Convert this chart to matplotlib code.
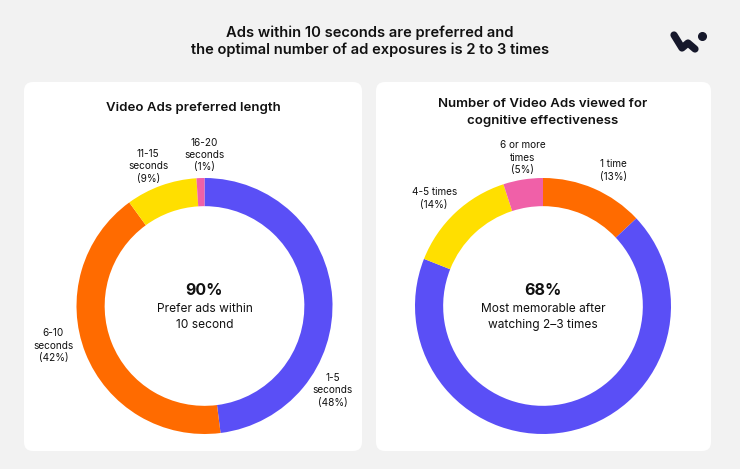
import matplotlib.pyplot as plt
from matplotlib.patches import FancyBboxPatch
from matplotlib.lines import Line2D

# chart data
length_labels = ["1-5\nseconds\n(48%)", "6-10\nseconds\n(42%)", "11-15\nseconds\n(9%)", "16-20\nseconds\n(1%)"]
length_values = [48, 42, 9, 1]
views_labels = ["1 time\n(13%)", "2-3 times", "4-5 times\n(14%)", "6 or more\ntimes\n(5%)"]
views_values = [13, 68, 14, 5]

BLUE = "#5a4ff6"
ORANGE = "#ff6b00"
YELLOW = "#ffdf00"
PINK = "#f060a8"
length_colors = [BLUE, ORANGE, YELLOW, PINK]
views_colors = [ORANGE, BLUE, YELLOW, PINK]

W, H = 740, 469
FONT = ["Inter", "DejaVu Sans"]
TXT = "#111111"

fig = plt.figure(figsize=(W / 100, H / 100), dpi=100)
fig.patch.set_facecolor("#f2f2f2")

# overlay axes in pixel coords
bg = fig.add_axes([0, 0, 1, 1])
bg.set_xlim(0, W)
bg.set_ylim(H, 0)
bg.axis("off")

for x0, x1 in [(24, 362), (376, 711)]:
    bg.add_patch(FancyBboxPatch((x0, 82), x1 - x0, 369,
                                boxstyle="round,pad=0,rounding_size=9",
                                fc="white", ec="none"))

bg.text(370, 33, "Ads within 10 seconds are preferred and", ha="center", va="center",
        fontsize=10.6, fontweight="semibold", family=FONT, color=TXT)
bg.text(370, 50, "the optimal number of ad exposures is 2 to 3 times", ha="center", va="center",
        fontsize=10.6, fontweight="semibold", family=FONT, color=TXT)

bg.text(193, 108, "Video Ads preferred length", ha="center", va="center",
        fontsize=9.5, fontweight="semibold", family=FONT, color=TXT)
bg.text(543, 104, "Number of Video Ads viewed for", ha="center", va="center",
        fontsize=9.5, fontweight="semibold", family=FONT, color=TXT)
bg.text(543, 121, "cognitive effectiveness", ha="center", va="center",
        fontsize=9.5, fontweight="semibold", family=FONT, color=TXT)

# logo
bg.add_line(Line2D([674, 682, 688, 695], [35, 48, 43, 49], color="#16182b", lw=5.2,
                   solid_capstyle="round", solid_joinstyle="round"))
bg.plot([701.5], [36], "o", color="#16182b", ms=5.5)


def donut(cx, cy, r, values, colors, labels, label_pos, big, sub):
    ax = fig.add_axes([(cx - r) / W, (H - cy - r) / H, 2 * r / W, 2 * r / H])
    ax.pie(values, colors=colors, startangle=90, counterclock=False, radius=1,
           wedgeprops=dict(width=0.22, edgecolor="none"))
    ax.set_xlim(-1, 1)
    ax.set_ylim(-1, 1)
    ax.axis("off")
    for lab, pos in zip(labels, label_pos):
        if pos is None:
            continue
        ax.text(pos[0], pos[1], lab, ha="center", va="center", fontsize=7.2,
                family=FONT, color=TXT, linespacing=1.3, clip_on=False)
    ax.text(0, 0.125, big, ha="center", va="center", fontsize=11.5,
            fontweight="bold", family=FONT, color=TXT)
    ax.text(0, -0.085, sub, ha="center", va="center", fontsize=8.6,
            family=FONT, color=TXT, linespacing=1.4)


donut(204.5, 306, 128, length_values, length_colors, length_labels,
      [(1.00, -0.66), (-1.18, -0.31), (-0.44, 1.09), (0.0, 1.18)],
      "90%", "Prefer ads within\n10 second")
donut(543, 306, 128, views_values, views_colors, views_labels,
      [(0.55, 1.06), None, (-0.85, 0.84), (-0.16, 1.16)],
      "68%", "Most memorable after\nwatching 2\u20133 times")

fig.savefig("out.png", dpi=100, facecolor=fig.get_facecolor())
